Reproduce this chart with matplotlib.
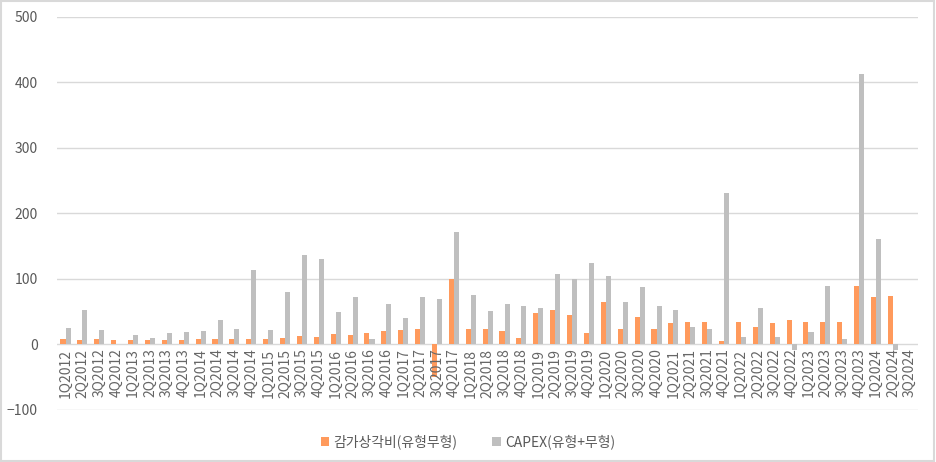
import matplotlib
matplotlib.use("Agg")
import matplotlib.pyplot as plt
import numpy as np
from matplotlib.transforms import blended_transform_factory, ScaledTranslation

plt.rcParams['font.family'] = ['Noto Sans CJK KR', 'DejaVu Sans']

quarters = [f"{q}Q{y}" for y in range(2012, 2025) for q in range(1, 5)][:51]

depreciation = [8, 7, 8, 7, 7, 7, 7, 7, 8, 9, 8, 9,
                9, 10, 13, 12, 16, 15, 18, 20, 22, 24, -49, 100,
                23, 23, 20, 10, 48, 53, 45, 17, 65, 24, 42, 23,
                33, 34, 35, 6, 34, 26, 33, 37, 34, 35, 35, 89,
                72, 74, np.nan]
capex = [25, 52, 22, 0, 15, 10, 17, 19, 20, 38, 24, 114,
         22, 80, 136, 131, 49, 73, 9, 61, 40, 73, 70, 171,
         75, 51, 61, 59, 55, 108, 100, 124, 104, 65, 87, 59,
         52, 27, 23, 231, 12, 56, 12, -8, 19, 89, 9, 413,
         161, -8, np.nan]

series_names = ["감가상각비(유형무형)", "CAPEX(유형+무형)"]
yticks = [-100, 0, 100, 200, 300, 400, 500]

fig = plt.figure(figsize=(9.36, 4.62), dpi=100)
ax = fig.add_axes([0.061, 0.1126, 0.92, 0.851])

x = np.arange(len(quarters))
w = 0.3
ax.bar(x - w/2, depreciation, width=w, color="#FF9A5C", label=series_names[0], zorder=3)
ax.bar(x + w/2, capex, width=w, color="#BFBFBF", label=series_names[1], zorder=3)

ax.set_ylim(-100, 500)
ax.set_yticks(yticks)
ax.set_xlim(-0.5, len(quarters) - 0.5)
ax.yaxis.grid(True, color="#D9D9D9", linewidth=1, zorder=0)
for s in ax.spines.values():
    s.set_visible(False)
ax.tick_params(axis='both', length=0, colors="#595959", labelsize=10)
ax.tick_params(axis='y', pad=14)
ax.set_xticks(x)
ax.set_xticklabels([])
trans = blended_transform_factory(ax.transData, ax.transData)
for xi, q in zip(x, quarters):
    ax.text(xi, 0, q, rotation=90, ha='center', va='top', fontsize=10,
            color="#666666", transform=trans + ScaledTranslation(0, -3/72, fig.dpi_scale_trans))

fig.legend(loc='lower center', bbox_to_anchor=(0.5, 0.0), ncol=2, frameon=False,
           fontsize=10, handlelength=0.6, handleheight=0.6, handletextpad=0.3,
           columnspacing=2.5, labelcolor="#595959")

fig.patches.append(plt.Rectangle((0.001, 0.002), 0.997, 0.996, transform=fig.transFigure,
                                 fill=False, edgecolor="#D9D9D9", linewidth=1.5))

fig.savefig("out.png", dpi=100)
